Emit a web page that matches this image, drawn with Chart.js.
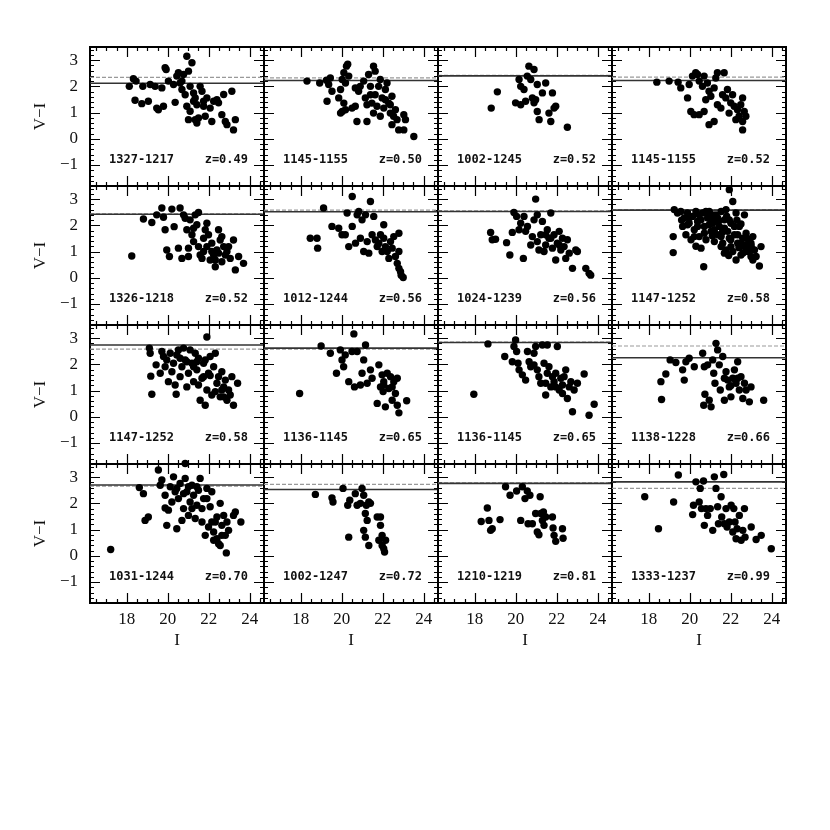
<!DOCTYPE html>
<html>
<head>
<meta charset="utf-8">
<script src="https://cdn.jsdelivr.net/npm/chart.js@4.4.1/dist/chart.umd.min.js"></script>
<style>
    body { margin: 0; background: #fff; width: 830px; height: 830px; position: relative; overflow: hidden; }
    canvas { position: absolute; }
</style>
</head>
<body>
<script>
// panel captions
const fieldNames = ['1327-1217', '1145-1155', '1002-1245', '1145-1155',
                    '1326-1218', '1012-1244', '1024-1239', '1147-1252',
                    '1147-1252', '1136-1145', '1136-1145', '1138-1228',
                    '1031-1244', '1002-1247', '1210-1219', '1333-1237']
const redshifts = ['0.49', '0.50', '0.52', '0.52',
                   '0.52', '0.56', '0.56', '0.58',
                   '0.58', '0.65', '0.65', '0.66',
                   '0.70', '0.72', '0.81', '0.99']

// red sequence levels (V-I): solid and grey line of each panel
const solidLevels = [2.12, 2.22, 2.4, 2.22, 2.42, 2.52, 2.53, 2.58, 2.74, 2.62, 2.83, 2.25, 2.7, 2.53, 2.76, 2.82]
const greyLevels  = [2.34, 2.32, 2.42, 2.35, 2.44, 2.58, 2.55, 2.6, 2.58, 2.58, 2.85, 2.7, 2.66, 2.72, 2.78, 2.57]

// axes
const xMin = 16.2, xMax = 24.7
const yMin = -1.8, yMax = 3.5
const xTickValues = [18, 20, 22, 24]
const yTickValues = [-1, 0, 1, 2, 3]

// galaxies [I, V-I]
const p1 = [[18.12,2.0],[18.32,2.29],[18.45,2.2],[18.4,1.47],[18.73,1.34],[19.05,1.43],[18.78,2.0],[19.14,2.07],[19.38,2.0],[19.46,1.17],[19.54,1.11],[19.71,1.94],[19.79,1.24],[19.87,2.71],[19.92,2.64],[20.03,2.2],[20.36,1.39],[20.44,2.39],[20.52,2.52],[20.6,2.13],[20.69,1.88],[20.77,2.45],[20.93,3.15],[21.01,2.58],[21.09,2.0],[21.18,2.9],[21.26,1.75],[20.93,1.24],[21.01,0.73],[21.09,1.05],[21.26,1.43],[21.34,0.73],[21.42,0.6],[21.5,0.79],[21.58,2.0],[21.67,1.81],[21.75,1.24],[21.83,0.86],[21.91,1.56],[22.07,1.17],[22.15,0.66],[22.24,1.43],[22.4,1.49],[22.48,1.37],[22.64,0.92],[22.73,1.69],[22.81,0.66],[22.89,0.54],[23.13,1.81],[23.21,0.34],[23.3,0.73],[20.85,1.68],[21.34,1.56],[21.42,1.3],[21.75,1.43],[20.69,2.2],[20.28,2.07]]
const p2 = [[18.3,2.2],[18.92,2.13],[19.25,2.23],[19.36,2.07],[19.44,2.32],[19.52,1.81],[19.28,1.43],[19.85,1.56],[19.94,1.88],[20.02,2.26],[20.1,2.52],[20.18,2.13],[20.23,2.77],[20.34,2.39],[20.29,2.84],[20.02,1.04],[20.1,1.36],[19.94,0.98],[20.18,1.11],[20.5,1.17],[20.66,1.24],[20.74,0.66],[20.66,1.94],[20.82,1.81],[20.9,2.0],[21.07,2.2],[21.15,1.56],[21.23,0.66],[21.31,2.45],[21.4,2.0],[21.47,1.36],[21.55,2.77],[21.63,2.58],[21.63,1.68],[21.72,1.24],[21.8,2.0],[21.88,2.26],[21.88,0.86],[21.97,1.56],[22.05,1.17],[22.13,1.88],[22.21,2.13],[22.29,1.36],[22.37,0.98],[22.45,1.62],[22.45,0.54],[22.53,0.86],[22.62,1.11],[22.7,0.73],[22.78,0.34],[23.03,0.34],[23.03,0.92],[23.11,0.73],[23.52,0.09],[21.4,1.68],[21.23,1.3],[22.13,1.49],[21.55,0.98],[22.37,1.3]]
const p3 = [[18.8,1.17],[19.1,1.79],[19.99,1.37],[20.24,1.3],[20.16,2.26],[20.24,2.0],[20.4,1.88],[20.48,1.43],[20.56,2.39],[20.64,2.77],[20.73,2.26],[20.89,2.64],[20.81,1.56],[20.89,1.37],[20.97,1.49],[21.05,2.07],[21.05,1.04],[21.14,0.73],[21.3,1.75],[21.46,2.13],[21.62,0.98],[21.71,0.66],[21.79,1.75],[21.87,1.17],[21.95,1.24],[22.52,0.44]]
const p4 = [[18.39,2.16],[18.99,2.2],[19.43,2.16],[19.56,1.94],[19.89,1.56],[19.97,2.07],[20.13,2.39],[20.29,2.52],[20.38,2.45],[20.46,2.2],[20.62,2.0],[20.7,2.39],[20.86,2.13],[20.94,1.81],[21.03,1.62],[21.19,1.94],[21.27,2.32],[21.35,2.52],[21.68,2.52],[21.6,1.68],[21.76,1.56],[21.84,1.88],[22.0,1.37],[22.09,1.68],[22.17,1.24],[22.33,1.11],[22.41,0.86],[22.49,1.3],[22.58,1.56],[22.58,0.66],[22.66,1.04],[22.74,0.86],[22.58,0.34],[20.05,1.04],[20.21,0.92],[20.46,0.92],[20.7,1.04],[20.94,0.54],[21.19,0.66],[20.78,1.49],[21.35,1.3],[21.52,1.17],[21.92,0.98],[22.25,0.73]]
const p5 = [[18.24,0.83],[18.81,2.24],[19.22,2.11],[19.46,2.4],[19.71,2.66],[19.79,2.31],[19.87,1.83],[19.95,1.06],[20.08,0.81],[20.2,2.62],[20.31,1.95],[20.52,1.13],[20.6,2.66],[20.69,0.74],[20.77,2.4],[20.85,2.27],[20.93,1.83],[21.01,1.13],[21.01,0.81],[21.09,2.21],[21.18,1.64],[21.26,1.38],[21.34,2.4],[21.42,2.02],[21.5,2.49],[21.58,0.87],[21.67,0.74],[21.75,1.51],[21.83,1.83],[21.91,2.08],[21.91,1.19],[21.99,1.64],[22.07,0.68],[22.15,1.32],[22.24,0.87],[22.32,0.42],[22.4,1.06],[22.48,1.83],[22.56,1.44],[22.64,0.61],[22.73,1.19],[22.81,0.87],[22.89,1.0],[22.97,1.19],[23.05,0.74],[23.21,1.44],[23.3,0.3],[23.46,0.81],[23.7,0.55],[21.5,1.19],[22.15,1.0],[22.32,0.68],[21.26,1.89],[22.48,0.94],[21.75,1.0],[22.64,1.57]]
const p6 = [[18.46,1.51],[18.79,1.51],[18.82,1.13],[19.11,2.66],[19.52,1.96],[19.85,1.89],[20.01,1.64],[20.17,1.64],[20.26,2.47],[20.34,1.19],[20.51,3.1],[20.51,1.96],[20.67,1.32],[20.75,2.4],[20.83,2.53],[20.91,1.51],[20.99,2.21],[21.07,1.0],[21.16,2.4],[21.24,1.38],[21.32,0.94],[21.4,2.91],[21.48,1.64],[21.56,2.34],[21.64,1.44],[21.73,1.19],[21.81,1.32],[21.89,1.64],[21.97,1.0],[22.05,2.02],[22.05,1.51],[22.13,1.19],[22.22,1.0],[22.3,0.74],[22.38,1.38],[22.46,1.13],[22.54,1.57],[22.62,0.81],[22.71,0.55],[22.79,1.7],[22.79,1.0],[22.87,0.23],[22.9,0.1],[23.0,0.01],[22.79,0.36]]
const p7 = [[18.77,1.73],[18.85,1.45],[19.01,1.47],[19.55,1.34],[19.71,0.87],[19.83,1.73],[19.91,2.49],[20.04,2.34],[20.16,1.83],[20.24,2.08],[20.37,0.74],[20.4,2.34],[20.48,1.77],[20.57,1.96],[20.73,1.25],[20.81,1.57],[20.89,2.21],[20.97,3.0],[21.05,2.4],[21.05,1.38],[21.13,1.06],[21.22,1.64],[21.3,2.15],[21.38,1.0],[21.46,1.25],[21.54,1.83],[21.62,1.51],[21.71,2.47],[21.79,1.13],[21.87,1.64],[21.95,0.68],[22.03,1.32],[22.12,1.77],[22.2,1.06],[22.28,1.51],[22.36,1.19],[22.44,0.74],[22.52,1.45],[22.61,0.94],[22.77,0.36],[22.93,1.06],[23.01,1.0],[23.42,0.36],[23.58,0.17],[23.66,0.1],[21.71,1.51],[21.46,1.64],[22.12,1.25]]
const p8 = [[19.19,1.57],[19.19,0.96],[19.24,2.6],[19.4,2.47],[19.56,2.53],[19.65,1.96],[19.73,2.28],[19.81,1.64],[19.89,2.47],[19.97,2.08],[20.06,1.45],[20.14,2.34],[20.22,1.83],[20.3,2.53],[20.38,2.15],[20.46,1.57],[20.55,1.13],[20.63,2.47],[20.68,0.42],[20.71,1.96],[20.79,1.45],[20.87,2.28],[20.95,2.53],[21.04,1.77],[21.12,2.08],[21.2,1.38],[21.28,2.4],[21.36,1.64],[21.44,1.96],[21.53,2.53],[21.61,1.32],[21.69,2.21],[21.77,2.6],[21.77,1.06],[21.85,1.77],[21.93,3.36],[21.93,1.51],[22.01,2.08],[22.1,2.91],[22.1,1.0],[22.18,1.64],[22.26,2.47],[22.26,0.68],[22.34,1.32],[22.42,1.96],[22.5,0.87],[22.59,1.51],[22.67,2.4],[22.67,1.19],[22.75,1.7],[22.83,1.0],[22.91,1.38],[22.99,0.81],[23.08,1.57],[23.16,1.06],[23.24,0.81],[23.4,0.45],[23.48,1.19],[20.38,1.96],[20.55,2.21],[20.71,1.7],[20.95,2.02],[21.2,1.83],[21.36,2.28],[21.53,1.57],[21.69,1.89],[21.93,2.21],[22.18,1.96],[22.34,1.64],[22.5,1.32],[22.75,1.25],[22.91,1.06],[22.01,1.19],[21.69,0.94],[19.89,2.02],[20.22,1.57],[20.79,2.53],[21.12,2.4],[22.99,1.32],[23.08,0.68],[21.53,1.19],[21.2,2.15],[20.0,2.3],[20.45,2.4],[20.9,2.4],[21.0,2.25],[21.4,2.15],[21.8,2.35],[22.3,2.2],[22.5,2.05],[21.1,1.6],[21.6,1.75],[22.0,1.45],[22.4,1.15],[22.8,1.5],[23.0,1.2],[21.9,0.85],[22.6,0.95],[20.3,1.2],[19.6,2.2]]
const p9 = [[19.1,2.62],[19.14,2.42],[19.17,1.55],[19.22,0.86],[19.43,1.98],[19.63,1.66],[19.71,2.49],[19.79,2.3],[19.87,1.91],[19.95,2.17],[20.03,1.34],[20.12,2.42],[20.2,1.72],[20.28,2.04],[20.36,1.21],[20.41,0.86],[20.44,2.36],[20.52,2.55],[20.6,1.53],[20.69,1.91],[20.77,2.62],[20.85,2.17],[20.93,1.14],[21.01,1.66],[21.09,2.55],[21.18,2.04],[21.26,1.34],[21.34,2.42],[21.42,1.79],[21.5,2.23],[21.58,0.63],[21.67,1.47],[21.75,2.04],[21.83,0.44],[21.91,3.04],[21.91,1.02],[21.99,1.66],[22.07,2.3],[22.15,0.83],[22.24,1.91],[22.32,2.42],[22.4,1.28],[22.48,1.53],[22.56,0.76],[22.64,1.72],[22.73,1.14],[22.81,1.4],[22.89,0.63],[22.97,1.02],[23.05,0.83],[23.13,1.53],[23.21,0.44],[23.41,1.28],[20.93,2.1],[21.26,1.91],[21.42,2.1],[21.75,1.53],[22.07,1.57],[22.32,0.96],[22.64,1.02],[20.6,2.23],[21.83,2.17],[21.5,1.21],[22.73,0.76]]
const p10 = [[17.94,0.89],[18.99,2.7],[19.44,2.42],[19.74,1.66],[19.93,2.55],[20.01,2.17],[20.09,1.91],[20.17,2.36],[20.34,1.34],[20.5,2.49],[20.59,3.16],[20.62,1.14],[20.75,2.49],[20.91,1.21],[20.99,1.66],[21.07,2.17],[21.16,2.74],[21.24,1.28],[21.4,1.79],[21.48,1.47],[21.73,0.51],[21.81,1.98],[21.89,1.14],[21.97,1.6],[22.02,0.96],[22.05,1.34],[22.13,0.38],[22.22,1.66],[22.3,1.08],[22.38,1.53],[22.46,0.63],[22.54,1.34],[22.62,0.89],[22.71,1.47],[22.71,0.44],[22.79,0.15],[23.17,0.61],[22.05,1.21],[22.46,1.14]]
const p11 = [[17.95,0.86],[18.64,2.78],[19.46,2.3],[19.83,2.1],[19.91,2.68],[19.99,2.93],[20.04,2.49],[20.11,2.04],[20.16,1.79],[20.32,1.6],[20.48,1.4],[20.57,2.49],[20.65,2.1],[20.73,1.91],[20.89,1.98],[20.97,2.68],[21.05,1.79],[21.13,1.53],[21.22,1.28],[21.3,2.74],[21.38,2.04],[21.46,0.83],[21.54,2.74],[21.54,1.66],[21.62,1.91],[21.71,1.14],[21.79,1.53],[21.87,1.34],[21.95,1.66],[22.03,2.68],[22.12,1.02],[22.2,1.47],[22.28,1.21],[22.36,1.53],[22.44,1.79],[22.52,0.7],[22.61,1.14],[22.69,1.34],[22.77,0.19],[22.85,1.02],[23.01,1.28],[23.34,1.63],[23.58,0.06],[23.83,0.48],[21.95,1.14],[21.46,1.28],[22.28,0.89],[20.89,2.42]]
const p12 = [[18.59,1.34],[18.62,0.66],[18.83,1.63],[19.04,2.17],[19.32,2.07],[19.65,1.79],[19.73,1.4],[19.81,2.1],[19.97,2.23],[20.22,1.91],[20.63,2.42],[20.68,0.44],[20.71,1.91],[20.74,0.86],[20.87,1.98],[20.95,0.63],[21.04,0.38],[21.12,2.17],[21.17,1.66],[21.23,1.28],[21.28,2.8],[21.36,2.55],[21.44,1.98],[21.49,1.02],[21.61,2.3],[21.69,0.63],[21.77,1.72],[21.85,1.4],[21.93,1.14],[22.01,0.76],[22.1,1.47],[22.18,1.79],[22.26,1.28],[22.34,2.1],[22.42,1.02],[22.5,1.53],[22.59,0.7],[22.67,1.28],[22.75,1.02],[22.91,0.57],[22.99,1.14],[23.61,0.63],[21.69,1.47],[22.34,1.47],[22.01,1.19]]
const p13 = [[17.21,0.24],[18.61,2.6],[18.81,2.37],[18.89,1.35],[19.05,1.48],[19.54,3.27],[19.63,2.69],[19.71,2.89],[19.87,2.31],[19.87,1.82],[19.95,1.16],[20.03,1.74],[20.12,2.63],[20.2,2.05],[20.28,3.01],[20.36,2.44],[20.44,1.03],[20.52,2.18],[20.6,2.76],[20.69,1.35],[20.77,1.8],[20.85,3.52],[20.85,2.95],[20.93,2.44],[21.01,1.54],[21.09,2.05],[21.18,2.69],[21.26,2.31],[21.34,1.42],[21.42,1.93],[21.5,2.5],[21.58,2.95],[21.67,1.29],[21.75,2.18],[21.83,0.78],[21.91,2.57],[21.99,1.1],[22.07,1.87],[22.15,2.44],[22.24,0.91],[22.24,0.59],[22.32,1.29],[22.4,1.48],[22.48,0.46],[22.56,2.0],[22.64,1.16],[22.73,1.54],[22.81,0.78],[22.89,1.29],[22.97,0.97],[22.86,0.11],[23.21,1.54],[23.3,1.67],[23.57,1.29],[22.4,0.65],[22.56,0.39],[21.42,2.63],[20.77,2.37],[21.18,1.8],[21.67,1.8],[21.91,2.18],[21.01,2.63],[20.44,2.57],[22.15,1.29],[22.64,0.78]]
const p14 = [[18.71,2.34],[19.52,2.21],[19.57,2.05],[20.06,2.57],[20.29,1.93],[20.34,0.71],[20.39,2.12],[20.66,2.37],[20.75,1.93],[20.91,2.0],[20.99,2.57],[21.07,2.31],[21.07,0.97],[21.15,0.71],[21.15,1.61],[21.2,1.93],[21.24,1.35],[21.32,0.39],[21.32,2.05],[21.4,2.0],[21.73,1.48],[21.81,0.59],[21.89,1.48],[21.89,1.16],[21.97,0.78],[21.97,0.39],[22.05,0.27],[22.09,0.14],[22.14,0.59]]
const p15 = [[18.31,1.31],[18.61,1.82],[18.69,1.35],[18.77,0.97],[18.85,1.03],[19.23,1.38],[19.5,2.63],[19.72,2.31],[20.04,2.47],[20.24,1.35],[20.32,2.63],[20.45,2.18],[20.56,2.47],[20.6,1.22],[20.69,2.31],[20.81,1.22],[20.97,1.61],[21.05,0.91],[21.13,0.8],[21.19,2.25],[21.22,1.61],[21.3,1.35],[21.35,1.67],[21.38,1.16],[21.46,1.48],[21.79,1.48],[21.82,1.06],[21.87,0.78],[21.95,0.55],[22.28,1.03],[22.31,0.67]]
const p16 = [[17.8,2.25],[18.47,1.03],[19.21,2.05],[19.44,3.08],[20.14,1.57],[20.18,1.93],[20.3,2.82],[20.46,2.05],[20.51,2.57],[20.57,1.8],[20.67,2.85],[20.71,1.16],[20.79,1.8],[20.87,1.54],[21.0,1.8],[21.12,0.97],[21.2,3.01],[21.28,2.57],[21.36,1.87],[21.4,1.22],[21.53,2.25],[21.56,1.48],[21.66,3.1],[21.69,1.22],[21.77,1.8],[21.82,1.1],[21.93,1.29],[22.02,1.93],[22.1,0.91],[22.15,1.8],[22.21,1.29],[22.26,0.65],[22.31,1.03],[22.42,1.54],[22.51,0.59],[22.59,0.97],[22.67,1.8],[22.7,0.71],[23.0,1.1],[23.24,0.62],[23.49,0.78],[23.98,0.27]]

const panels = [p1, p2, p3, p4, p5, p6, p7, p8, p9, p10, p11, p12, p13, p14, p15, p16]

// layout
const panelLeft = [90, 264, 438, 612]
const panelTop = [47, 186, 325, 464]
const plotW = 174, plotH = 139
const marginL = 60, marginT = 6, marginR = 6, marginB = 48
const xMinorStep = 0.5, xMajorStep = 2
const yMinorStep = 0.2, yMajorStep = 1

const serif = '"Liberation Serif", "DejaVu Serif", serif'

function isMajor(v, step) {
    return Math.abs(v / step - Math.round(v / step)) < 1e-6
}

const framePlugin = {
    id: 'frame',
    beforeDatasetsDraw(chart) {
        const {ctx, chartArea: a} = chart
        const x = chart.scales.x, y = chart.scales.y
        ctx.save()
        ctx.strokeStyle = '#000'
        ctx.lineWidth = 1.2
        ctx.beginPath()
        for (let i = Math.ceil(x.min / xMinorStep); i * xMinorStep <= x.max; i++) {
            const v = i * xMinorStep
            const px = Math.round(x.getPixelForValue(v)) + 0.5
            const len = isMajor(v, xMajorStep) ? 10 : 4
            ctx.moveTo(px, a.bottom); ctx.lineTo(px, a.bottom - len)
            ctx.moveTo(px, a.top); ctx.lineTo(px, a.top + len)
        }
        for (let i = Math.ceil(y.min / yMinorStep); i * yMinorStep <= y.max; i++) {
            const v = i * yMinorStep
            const py = Math.round(y.getPixelForValue(v)) + 0.5
            const len = isMajor(v, yMajorStep) ? 10 : 4
            ctx.moveTo(a.left, py); ctx.lineTo(a.left + len, py)
            ctx.moveTo(a.right, py); ctx.lineTo(a.right - len, py)
        }
        ctx.stroke()
        ctx.lineWidth = 2
        ctx.strokeRect(a.left, a.top, a.right - a.left, a.bottom - a.top)
        ctx.restore()
    },
    afterDatasetsDraw(chart, args, opts) {
        const {ctx, chartArea: a} = chart
        const py = chart.scales.y.getPixelForValue(-0.8)
        ctx.save()
        ctx.fillStyle = '#111'
        ctx.font = 'bold 12px "DejaVu Sans Mono", monospace'
        ctx.textBaseline = 'middle'
        ctx.textAlign = 'left'
        ctx.fillText(opts.field, a.left + 19, py)
        ctx.textAlign = 'right'
        ctx.fillText('z=' + opts.z, a.right - 16, py)
        ctx.restore()
    }
}

function minusLabel(v) {
    return v < 0 ? '\u2212' + Math.abs(v) : String(v)
}

for (let k = 0; k < panels.length; k++) {
    const col = k % 4
    const row = Math.floor(k / 4)
    const leftCol = col === 0
    const bottomRow = row === 3

    const cv = document.createElement('canvas')
    cv.width = marginL + plotW + marginR
    cv.height = marginT + plotH + marginB
    cv.style.left = (panelLeft[col] - marginL) + 'px'
    cv.style.top = (panelTop[row] - marginT) + 'px'
    document.body.appendChild(cv)

    const config = {
        type: 'scatter',
        data: {
            datasets: [{
                data: panels[k].map(p => ({x: p[0], y: p[1]})),
                backgroundColor: '#000',
                borderWidth: 0,
                pointRadius: 3.7,
                clip: false
            },
            {
                data: [{x: xMin, y: solidLevels[k]}, {x: xMax, y: solidLevels[k]}],
                showLine: true,
                borderColor: '#333',
                borderWidth: 1.6,
                pointRadius: 0
            },
            {
                data: [{x: xMin, y: greyLevels[k]}, {x: xMax, y: greyLevels[k]}],
                showLine: true,
                borderColor: '#999',
                borderWidth: 1.2,
                borderDash: [4, 2],
                pointRadius: 0
            }]
        },
        options: {
            responsive: false,
            animation: false,
            events: [],
            devicePixelRatio: 1,
            layout: {padding: {left: 0, top: marginT, right: marginR, bottom: 0}},
            plugins: {
                legend: {display: false},
                tooltip: {enabled: false},
                frame: {field: fieldNames[k], z: redshifts[k]}
            },
            scales: {
                x: {
                    type: 'linear',
                    min: xMin,
                    max: xMax,
                    afterBuildTicks: (scale) => { scale.ticks = xTickValues.map(v => ({value: v})) },
                    afterFit: (scale) => {
                        scale.height = marginB
                        scale.paddingLeft = 0
                        scale.paddingRight = 0
                    },
                    grid: {display: false, drawTicks: false},
                    border: {display: false},
                    ticks: {
                        display: bottomRow,
                        autoSkip: false,
                        maxRotation: 0,
                        padding: 6,
                        color: '#111',
                        font: {family: serif, size: 17},
                        callback: (v) => minusLabel(v)
                    },
                    title: {
                        display: bottomRow,
                        text: 'I',
                        color: '#111',
                        padding: 0,
                        font: {family: serif, size: 17}
                    }
                },
                y: {
                    type: 'linear',
                    min: yMin,
                    max: yMax,
                    afterBuildTicks: (scale) => { scale.ticks = yTickValues.map(v => ({value: v})) },
                    afterFit: (scale) => {
                        scale.width = marginL
                        scale.paddingTop = 0
                        scale.paddingBottom = 0
                    },
                    grid: {display: false, drawTicks: false},
                    border: {display: false},
                    ticks: {
                        display: leftCol,
                        autoSkip: false,
                        padding: 12,
                        color: '#111',
                        font: {family: serif, size: 17},
                        callback: (v) => minusLabel(v)
                    },
                    title: {
                        display: leftCol,
                        text: 'V\u2212I',
                        color: '#111',
                        padding: 0,
                        font: {family: serif, size: 17}
                    }
                }
            }
        },
        plugins: [framePlugin]
    }

    new Chart(cv, config)
}
</script>
</body>
</html>
